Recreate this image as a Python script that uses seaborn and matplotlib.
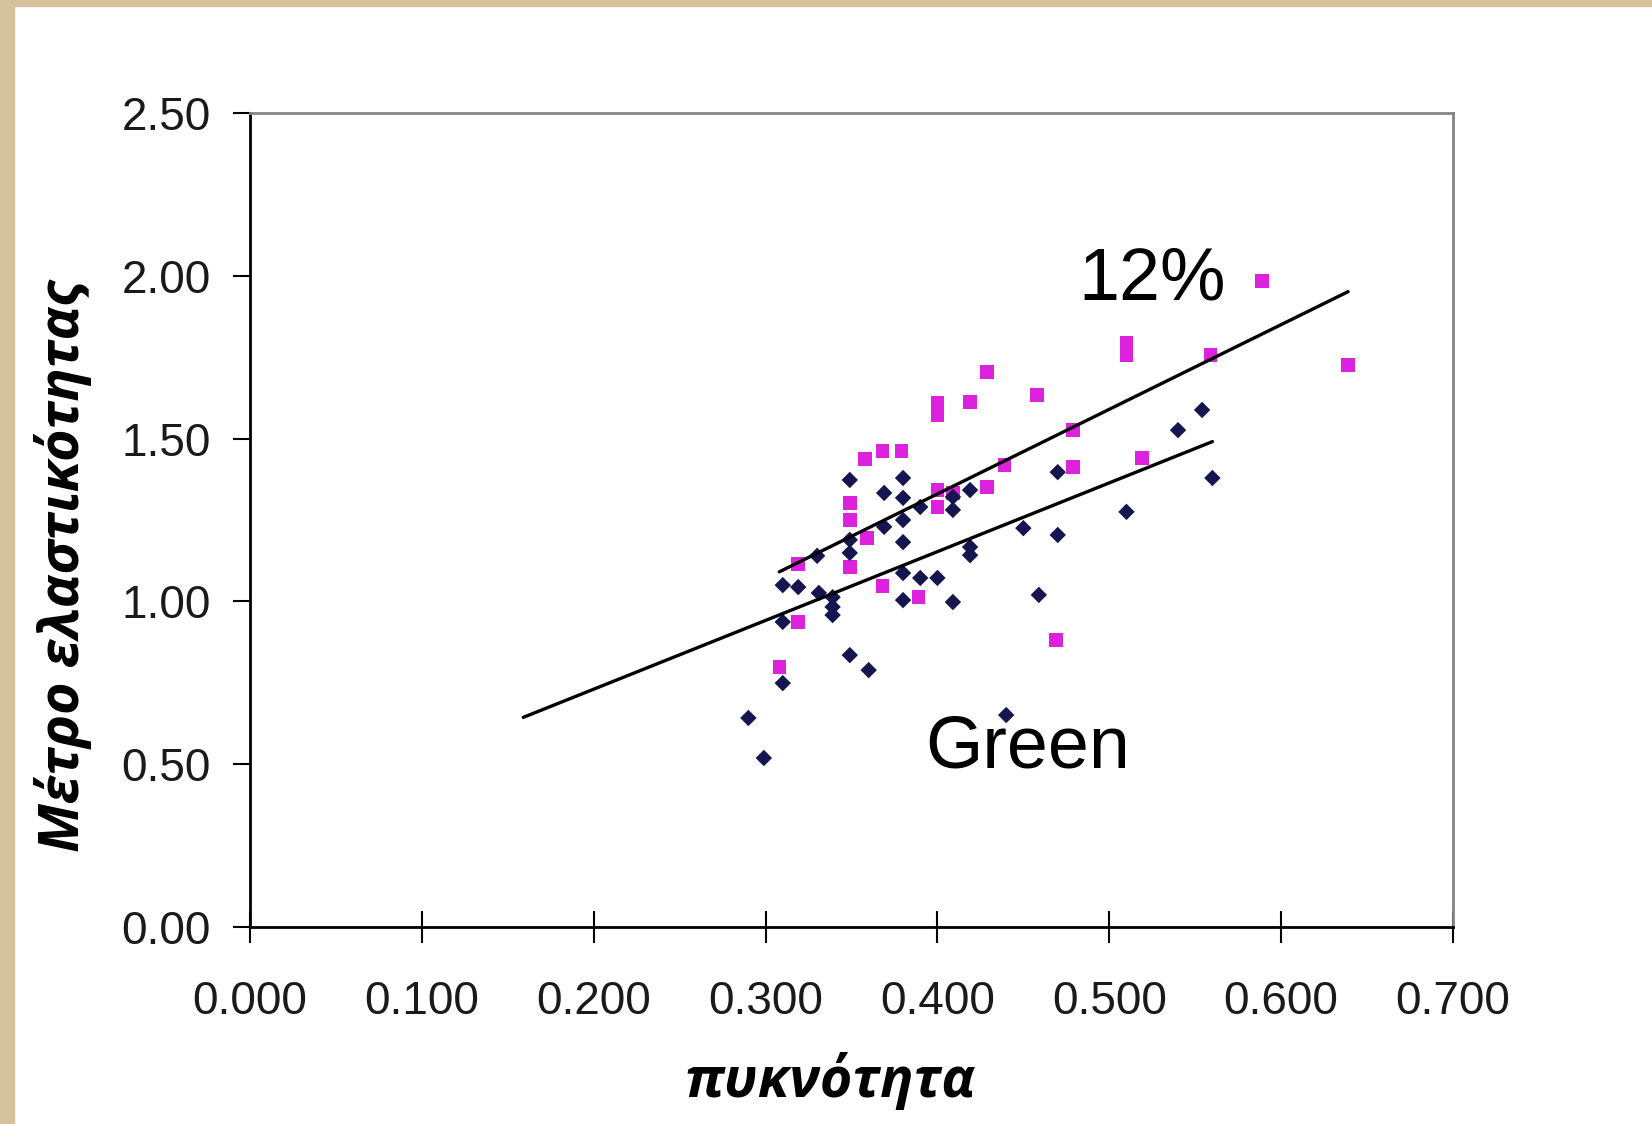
import numpy as np
import pandas as pd
import matplotlib
matplotlib.use('Agg')
import matplotlib.pyplot as plt
import seaborn as sns
from matplotlib.patches import Rectangle

sns.set_theme(style='white')

# ─────────────────────────────────────────────
# Data
# ─────────────────────────────────────────────
# 12% moisture content (magenta squares)
dry_density = [0.358, 0.368, 0.379, 0.349, 0.349, 0.359, 0.349, 0.319, 0.368, 0.389,
               0.319, 0.400, 0.400, 0.429, 0.439, 0.409, 0.308, 0.469, 0.429, 0.400,
               0.400, 0.419, 0.458, 0.479, 0.479, 0.589, 0.510, 0.510, 0.559, 0.639,
               0.519]
dry_moe = [1.437, 1.462, 1.462, 1.302, 1.250, 1.195, 1.106, 1.115, 1.047, 1.013,
           0.937, 1.342, 1.290, 1.351, 1.419, 1.333, 0.799, 0.881, 1.705, 1.609,
           1.572, 1.612, 1.634, 1.413, 1.526, 1.984, 1.794, 1.757, 1.757, 1.726,
           1.440]

# Green (navy diamonds)
green_density = [0.349, 0.380, 0.369, 0.380, 0.390, 0.380, 0.369, 0.349, 0.349, 0.380,
                 0.409, 0.409, 0.419, 0.419, 0.419, 0.380, 0.390, 0.400, 0.380, 0.409,
                 0.310, 0.319, 0.331, 0.339, 0.339, 0.339, 0.310, 0.349, 0.360, 0.310,
                 0.290, 0.299, 0.440, 0.459, 0.470, 0.450, 0.470, 0.554, 0.540, 0.560,
                 0.510, 0.330]
green_moe = [1.373, 1.379, 1.333, 1.318, 1.290, 1.250, 1.229, 1.189, 1.149, 1.182,
             1.281, 1.321, 1.342, 1.167, 1.142, 1.087, 1.072, 1.072, 1.004, 0.998,
             1.050, 1.044, 1.026, 1.013, 0.983, 0.958, 0.937, 0.835, 0.789, 0.749,
             0.642, 0.519, 0.651, 1.020, 1.397, 1.225, 1.204, 1.588, 1.526, 1.379,
             1.275, 1.140]

# trend lines: slope, intercept and x extent
dry_slope, dry_intercept = 2.60, 0.290
dry_range = [0.308, 0.639]
green_slope, green_intercept = 2.112, 0.308
green_range = [0.159, 0.560]

x_ticks = [0.0, 0.1, 0.2, 0.3, 0.4, 0.5, 0.6, 0.7]
y_ticks = [0.0, 0.5, 1.0, 1.5, 2.0, 2.5]

dry = pd.DataFrame({'density': dry_density, 'moe': dry_moe})
green = pd.DataFrame({'density': green_density, 'moe': green_moe})

# ─────────────────────────────────────────────
# Figure
# ─────────────────────────────────────────────
W, H = 1652, 1124
fig = plt.figure(figsize=(W / 100, H / 100), dpi=100, facecolor='white')
# wooden frame strips at left / top
fig.patches.append(Rectangle((0, 0), 14 / W, 1, transform=fig.transFigure,
                             color='#d6c19d', zorder=0))
fig.patches.append(Rectangle((0, 1 - 6 / H), 1, 6 / H, transform=fig.transFigure,
                             color='#d6c19d', zorder=0))

ax = fig.add_axes([250 / W, 1 - 927 / H, (1453 - 250) / W, (927 - 113) / H])

sns.scatterplot(data=dry, x='density', y='moe', marker='s', s=95,
                color='#dd22dd', edgecolor='none', ax=ax, zorder=3)
sns.scatterplot(data=green, x='density', y='moe', marker='D', s=70,
                color='#15154f', edgecolor='none', ax=ax, zorder=3)

for slope, intercept, xr in [(dry_slope, dry_intercept, dry_range),
                             (green_slope, green_intercept, green_range)]:
    xs = np.array(xr)
    ax.plot(xs, slope * xs + intercept, color='black', linewidth=2.4, zorder=4)

ax.set_xlim(0, 0.7)
ax.set_ylim(0, 2.5)
ax.set_xticks(x_ticks)
ax.set_yticks(y_ticks)
ax.set_xticklabels([f'{v:.3f}' for v in x_ticks])
ax.set_yticklabels([f'{v:.2f}' for v in y_ticks])
ax.set_xlabel('')
ax.set_ylabel('')

tick_font = 'Liberation Sans'
for lab in ax.get_xticklabels() + ax.get_yticklabels():
    lab.set_fontfamily(tick_font)
ax.tick_params(axis='x', direction='inout', length=23, width=1.5, pad=27,
               labelsize=33, labelcolor='#1a1a1a', color='black', bottom=True)
ax.tick_params(axis='y', direction='out', length=12, width=1.5, pad=16,
               labelsize=33, labelcolor='#1a1a1a', color='black', left=True)

for side in ['left', 'bottom']:
    ax.spines[side].set_color('black')
    ax.spines[side].set_linewidth(2.0)
for side in ['top', 'right']:
    ax.spines[side].set_color('#858585')
    ax.spines[side].set_linewidth(2.0)

ax.text(0.4818, 1.926, '12%', fontsize=53, family=tick_font, color='black')
ax.text(0.3928, 0.491, 'Green', fontsize=53, family=tick_font, color='black')

label_font = ['Open Sans', 'Noto Sans', 'DejaVu Sans']
fig.text(830 / W, 1 - 1097 / H, 'πυκνότητα', ha='center', va='baseline',
         fontsize=40, fontweight='bold', fontstyle='italic', family=label_font,
         color='black')
fig.text(63 / W, 1 - 566 / H, 'Μέτρο ελαστικότητας', ha='center', va='center',
         rotation=90, fontsize=40, fontweight='bold', fontstyle='italic',
         family=label_font, color='black')

plt.savefig('out.png', dpi=100, facecolor='white')
plt.close()
